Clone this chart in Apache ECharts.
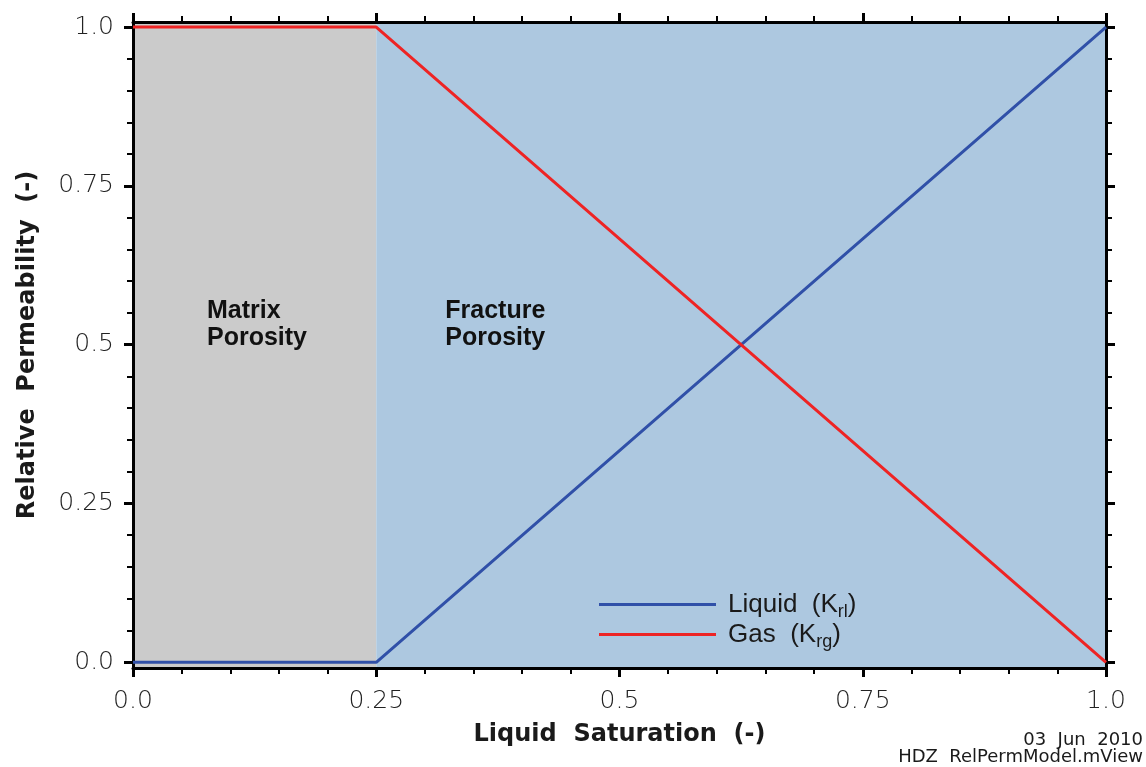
<!DOCTYPE html>
<html>
<head>
<meta charset="utf-8">
<title>Relative Permeability Model</title>
<script src="https://cdn.jsdelivr.net/npm/echarts@6/dist/echarts.min.js"></script>
<style>
  html, body { margin: 0; padding: 0; background: #ffffff; }
  #chart { width: 1146px; height: 767px; }
</style>
</head>
<body>
<div id="chart"></div>
<script>
// Liquid saturation (x) and relative permeability curves
const saturation = [0, 0.25, 1];
const liquidKr = [0, 0, 1];
const gasKr = [1, 1, 0];

// Porosity regions along the saturation axis
const regionEdges = [0, 0.25, 1];
const regionNames = ['Matrix\nPorosity', 'Fracture\nPorosity'];

// Axis ticks
const majorTicks = [0, 0.25, 0.5, 0.75, 1];
const majorLabels = ['0.0', '0.25', '0.5', '0.75', '1.0'];
const minorTicks = [0.05, 0.1, 0.15, 0.2, 0.3, 0.35, 0.4, 0.45, 0.55, 0.6, 0.65, 0.7, 0.8, 0.85, 0.9, 0.95];

// Small padding of the permeability axis beyond 0..1
const yMin = -0.009;
const yMax = 1.008;

const AXIS_COLOR = '#000000';
const TEXT_COLOR = '#1a1a1a';

function labelFor(v) {
  const i = majorTicks.findIndex(t => Math.abs(t - v) < 1e-9);
  return i >= 0 ? majorLabels[i] : '';
}

const tickLabelStyle = {
  fontFamily: 'DejaVu Sans',
  fontWeight: 200,
  fontSize: 25,
  color: '#222222'
};

function pairs(xs, ys) { return xs.map((x, i) => [x, ys[i]]); }

const chart = echarts.init(document.getElementById('chart'), null, { renderer: 'canvas' });

const xBase = {
  type: 'value', min: 0, max: 1, interval: 0.25,
  splitLine: { show: false },
  axisLine: { show: true, onZero: false, lineStyle: { color: AXIS_COLOR, width: 3 } },
  axisTick: { show: true, inside: false, length: 9, lineStyle: { color: AXIS_COLOR, width: 3 } },
  minorTick: { show: true, splitNumber: 5, length: 6, lineStyle: { color: AXIS_COLOR, width: 2 } },
  minorSplitLine: { show: false }
};

const yMajorBase = {
  type: 'value', min: yMin, max: yMax,
  splitLine: { show: false },
  axisLine: { show: true, onZero: false, lineStyle: { color: AXIS_COLOR, width: 3 } },
  axisTick: { show: true, inside: false, length: 9, customValues: majorTicks, lineStyle: { color: AXIS_COLOR, width: 3 } }
};

const yMinorBase = {
  type: 'value', min: yMin, max: yMax,
  splitLine: { show: false },
  axisLine: { show: false, onZero: false },
  axisLabel: { show: false },
  axisTick: { show: true, inside: false, length: 6, customValues: minorTicks, lineStyle: { color: AXIS_COLOR, width: 2 } }
};

const option = {
  animation: false,
  backgroundColor: '#ffffff',
  grid: { left: 133, right: 40, top: 22, bottom: 99, containLabel: false },
  xAxis: [
    Object.assign({}, xBase, {
      position: 'bottom',
      name: 'Liquid  Saturation  (-)',
      nameLocation: 'middle',
      nameGap: 55,
      nameTextStyle: { fontFamily: 'DejaVu Sans', fontWeight: 'bold', fontSize: 24, color: TEXT_COLOR },
      axisLabel: Object.assign({ margin: 21, formatter: labelFor }, tickLabelStyle)
    }),
    Object.assign({}, xBase, {
      position: 'top',
      axisLabel: { show: false }
    })
  ],
  yAxis: [
    Object.assign({}, yMajorBase, {
      position: 'left',
      name: 'Relative  Permeability  (-)',
      nameLocation: 'middle',
      nameGap: 93,
      nameTextStyle: { fontFamily: 'DejaVu Sans', fontWeight: 'bold', fontSize: 24, color: TEXT_COLOR },
      axisLabel: Object.assign({ margin: 19, customValues: majorTicks, formatter: labelFor }, tickLabelStyle)
    }),
    Object.assign({}, yMinorBase, { position: 'left' }),
    Object.assign({}, yMajorBase, { position: 'right', axisLabel: { show: false } }),
    Object.assign({}, yMinorBase, { position: 'right' })
  ],
  legend: {
    orient: 'vertical',
    left: 594,
    top: 583,
    itemWidth: 117,
    itemHeight: 3,
    itemGap: -3,
    icon: 'rect',
    data: ['Liquid', 'Gas'],
    formatter: function (name) {
      return name === 'Liquid' ? '{m|Liquid  (K}{s|rl}{m|)}' : '{m|Gas  (K}{s|rg}{m|)}';
    },
    textStyle: {
      padding: [0, 0, 0, 7],
      rich: {
        m: { fontFamily: 'Liberation Sans', fontSize: 26, color: TEXT_COLOR, lineHeight: 28 },
        s: { fontFamily: 'Liberation Sans', fontSize: 18, color: TEXT_COLOR, lineHeight: 13, padding: [15, 0, 0, 0] }
      }
    }
  },
  series: [
    {
      name: 'Regions',
      type: 'line',
      data: [],
      xAxisIndex: 0,
      yAxisIndex: 0,
      silent: true,
      markArea: {
        silent: true,
        z: 0,
        data: [
          [
            { xAxis: regionEdges[0], itemStyle: { color: '#cbcbcb' },
              label: { show: true, position: [74, 276], formatter: regionNames[0] } },
            { xAxis: regionEdges[1] }
          ],
          [
            { xAxis: regionEdges[1], itemStyle: { color: '#adc8e0' },
              label: { show: true, position: [69, 276], formatter: regionNames[1] } },
            { xAxis: regionEdges[2] }
          ]
        ],
        label: {
          fontFamily: 'Liberation Sans',
          fontWeight: 'bold',
          fontSize: 25,
          lineHeight: 27,
          color: '#111111',
          align: 'left',
          verticalAlign: 'top'
        }
      }
    },
    {
      name: 'Liquid',
      type: 'line',
      data: pairs(saturation, liquidKr),
      xAxisIndex: 0,
      yAxisIndex: 0,
      showSymbol: false,
      z: 5,
      color: '#3050a8',
      lineStyle: { color: '#3050a8', width: 3 }
    },
    {
      name: 'Gas',
      type: 'line',
      data: pairs(saturation, gasKr),
      xAxisIndex: 0,
      yAxisIndex: 0,
      showSymbol: false,
      z: 5,
      color: '#ee2424',
      lineStyle: { color: '#ee2424', width: 3 }
    }
  ],
  graphic: [
    {
      type: 'text',
      right: 3,
      top: 731,
      style: {
        text: '03  Jun  2010',
        fontFamily: 'DejaVu Sans',
        fontSize: 18,
        fill: TEXT_COLOR
      }
    },
    {
      type: 'text',
      right: 3,
      top: 748,
      style: {
        text: 'HDZ  RelPermModel.mView',
        fontFamily: 'DejaVu Sans',
        fontSize: 18,
        fill: TEXT_COLOR
      }
    }
  ]
};

chart.setOption(option);
</script>
</body>
</html>
